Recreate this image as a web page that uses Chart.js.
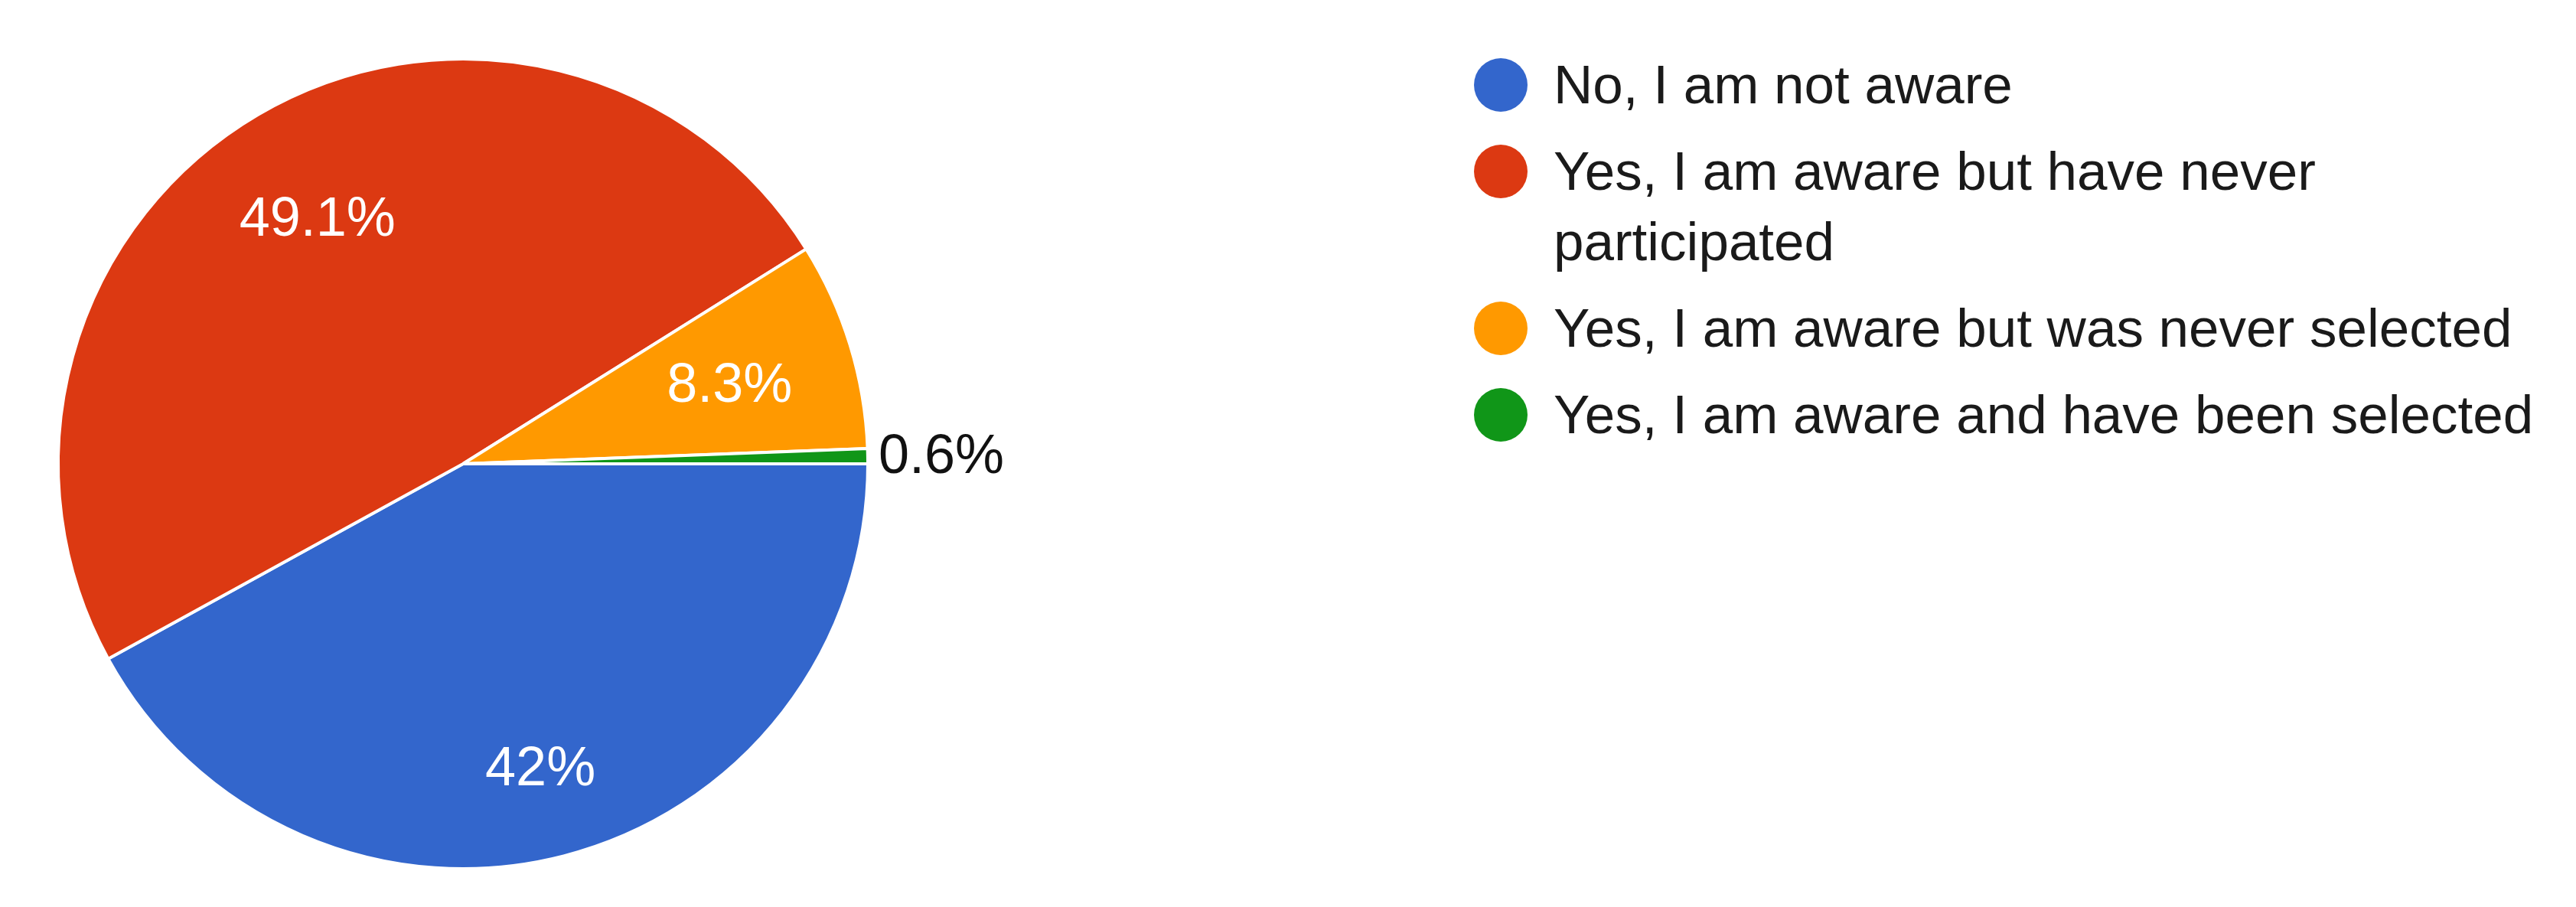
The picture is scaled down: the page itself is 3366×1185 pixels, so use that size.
<!DOCTYPE html>
<html>
<head>
<meta charset="utf-8">
<script src="https://cdn.jsdelivr.net/npm/chart.js@4/dist/chart.umd.min.js"></script>
<style>
  body { margin: 0; background: #fff; width: 3366px; height: 1185px; overflow: hidden; position: relative; }
  #pie { position: absolute; left: 0; top: 0; }
  #legend { position: absolute; left: 1926px; top: 65px; margin: 0; padding: 0; list-style: none; }
  #legend li { display: flex; align-items: flex-start; margin-bottom: 21px; }
  #legend .dot { width: 70px; height: 70px; border-radius: 50%; margin-top: 11px; margin-right: 34px; flex: none; }
  #legend .txt { font-family: "Liberation Sans", Arial, sans-serif; font-size: 71px; line-height: 92px; color: #1a1a1a; width: 1330px; }
</style>
</head>
<body>
<canvas id="pie" width="1420" height="1185"></canvas>
<ul id="legend"></ul>
<script>
const answers = [
  "No, I am not aware",
  "Yes, I am aware but have never participated",
  "Yes, I am aware but was never selected",
  "Yes, I am aware and have been selected"
];
const shares = [42, 49.1, 8.3, 0.6];
const sliceColors = ["#3366cc", "#dc3912", "#ff9900", "#109618"];

// percentage labels, white inside the slice, black outside for tiny ones
const sliceLabels = {
  id: "sliceLabels",
  afterDatasetsDraw(chart) {
    const ctx = chart.ctx;
    const meta = chart.getDatasetMeta(0);
    ctx.save();
    ctx.font = '72px "Liberation Sans", Arial, sans-serif';
    ctx.textBaseline = "alphabetic";
    meta.data.forEach((arc, i) => {
      const { x, y, startAngle, endAngle, outerRadius } =
        arc.getProps(["x", "y", "startAngle", "endAngle", "outerRadius"], true);
      const mid = (startAngle + endAngle) / 2;
      const cos = Math.cos(mid), sin = Math.sin(mid);
      const text = shares[i] + "%";
      if (shares[i] < 2) {
        ctx.fillStyle = "#111";
        ctx.textAlign = "left";
        ctx.fillText(text, x + outerRadius + 14, y + outerRadius * sin - 4 + 26);
        return;
      }
      const w = ctx.measureText(text).width;
      const h = 54;
      const d = outerRadius * 0.852 - (Math.abs(cos) * w / 2 + Math.abs(sin) * h / 2);
      ctx.fillStyle = "#fff";
      ctx.textAlign = "center";
      ctx.fillText(text, x + d * cos, y + d * sin + 26);
    });
    ctx.restore();
  }
};

new Chart(document.getElementById("pie"), {
  type: "pie",
  data: {
    labels: answers,
    datasets: [{
      data: shares,
      backgroundColor: sliceColors,
      borderColor: "#fff",
      borderWidth: 4
    }]
  },
  options: {
    responsive: false,
    animation: false,
    rotation: 90,
    layout: { padding: { left: 74, top: 75, right: 284, bottom: 48 } },
    plugins: {
      legend: { display: false },
      tooltip: { enabled: false }
    }
  },
  plugins: [sliceLabels]
});

const legend = document.getElementById("legend");
answers.forEach((a, i) => {
  const li = document.createElement("li");
  const dot = document.createElement("span");
  dot.className = "dot";
  dot.style.background = sliceColors[i];
  const txt = document.createElement("span");
  txt.className = "txt";
  txt.textContent = a;
  li.appendChild(dot);
  li.appendChild(txt);
  legend.appendChild(li);
});
</script>
</body>
</html>
